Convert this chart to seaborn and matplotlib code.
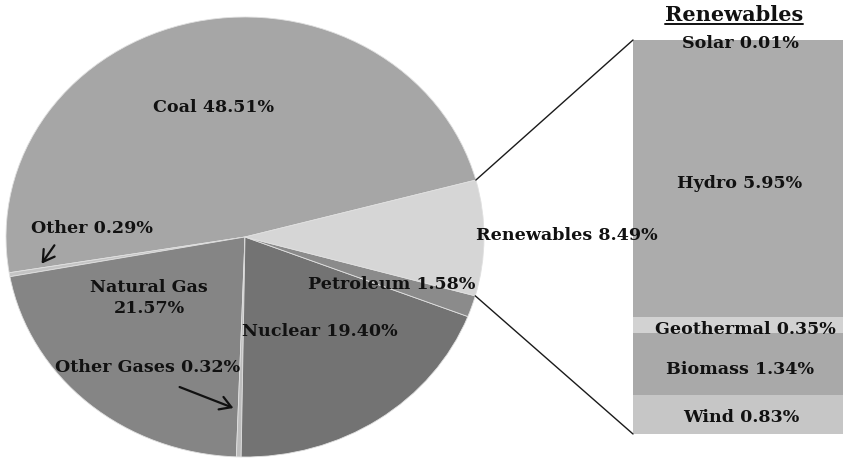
import numpy as np
import matplotlib
matplotlib.use("Agg")
import matplotlib.pyplot as plt
from matplotlib.patches import ConnectionPatch, FancyArrowPatch
import seaborn as sns

# ---- data ----
pie_labels = ["Coal", "Other", "Natural Gas", "Other Gases", "Nuclear", "Petroleum", "Renewables"]
pie_values = [48.51, 0.29, 21.57, 0.32, 19.40, 1.58, 8.49]
pie_colors = ["#a6a6a6", "#c4c4c4", "#858585", "#bdbdbd", "#737373", "#8b8b8b", "#d6d6d6"]

ren_labels = ["Wind", "Biomass", "Geothermal", "Hydro", "Solar"]
ren_values = [0.83, 1.34, 0.35, 5.95, 0.01]
ren_colors = ["#c6c6c6", "#a9a9a9", "#d2d2d2", "#acacac", "#acacac"]

sns.set_style("white")
plt.rcParams['font.family'] = ['DejaVu Serif']

W, H = 843, 460
fig = plt.figure(figsize=(W / 100, H / 100), dpi=100)

def px_axes(x0, y0, x1, y1):
    return fig.add_axes([x0 / W, (H - y1) / H, (x1 - x0) / W, (y1 - y0) / H])

# pie axes (slightly elliptical, as in reference)
ax = px_axes(6, 18, 484, 458)
start = 15.0
wedges, _ = ax.pie(pie_values, colors=pie_colors, startangle=start, counterclock=True,
                   radius=1.0, wedgeprops=dict(edgecolor="#e0e0e0", linewidth=0.6))
ax.set_xlim(-1, 1)
ax.set_ylim(-1, 1)
ax.set_aspect("auto")
ax.axis("off")

# bar axes
bx = px_axes(633, 41, 843, 435)
bottoms = np.concatenate([[0], np.cumsum(ren_values)[:-1]])
for lab, v, b, c in zip(ren_labels, ren_values, bottoms, ren_colors):
    bx.bar(0, v, bottom=b, width=1.0, color=c, edgecolor="none")
bx.set_xlim(-0.5, 0.5)
bx.set_ylim(0, sum(ren_values))
bx.axis("off")

fs = 12.6

def ftext(x, y, s, **kw):
    d = dict(fontsize=fs, fontweight="bold", color="#111111", ha="center", va="center")
    d.update(kw)
    fig.text(x / W, 1 - y / H, s, **d)

ftext(213, 108, "Coal 48.51%")
ftext(92, 229, "Other 0.29%")
ftext(149, 298, "Natural Gas\n21.57%", linespacing=1.3)
ftext(148, 368, "Other Gases 0.32%")
ftext(320, 332, "Nuclear 19.40%")
ftext(392, 285, "Petroleum 1.58%")
ftext(567, 235, "Renewables 8.49%")
ftext(734, 15, "Renewables", fontsize=15)
fig.add_artist(plt.Line2D([665 / W, 803 / W], [1 - 25 / H, 1 - 25 / H], color="#111111", lw=1.4))

ftext(740, 43, "Solar 0.01%")
ftext(740, 183, "Hydro 5.95%")
ftext(745, 330, "Geothermal 0.35%")
ftext(740, 369, "Biomass 1.34%")
ftext(741, 418, "Wind 0.83%")

# arrows
def farrow(x0, y0, x1, y1):
    fig.add_artist(FancyArrowPatch(
        (x0 / W, 1 - y0 / H), (x1 / W, 1 - y1 / H), transform=fig.transFigure,
        arrowstyle="->,head_length=5,head_width=3", lw=1.6, color="#111111",
        mutation_scale=1.6))

farrow(56, 244, 40, 267)
farrow(177, 387, 236, 410)

# connection lines from pie to bar
tot = sum(pie_values)
a_top = np.deg2rad(start)
a_bot = np.deg2rad(start - 360 * pie_values[-1] / tot)
con1 = ConnectionPatch(xyA=(np.cos(a_top), np.sin(a_top)), coordsA=ax.transData,
                       xyB=(-0.5, sum(ren_values)), coordsB=bx.transData,
                       color="#1a1a1a", lw=1.0)
con2 = ConnectionPatch(xyA=(np.cos(a_bot), np.sin(a_bot)), coordsA=ax.transData,
                       xyB=(-0.5, 0), coordsB=bx.transData,
                       color="#1a1a1a", lw=1.0)
fig.add_artist(con1)
fig.add_artist(con2)

fig.savefig("out.png", dpi=100, facecolor="white")
